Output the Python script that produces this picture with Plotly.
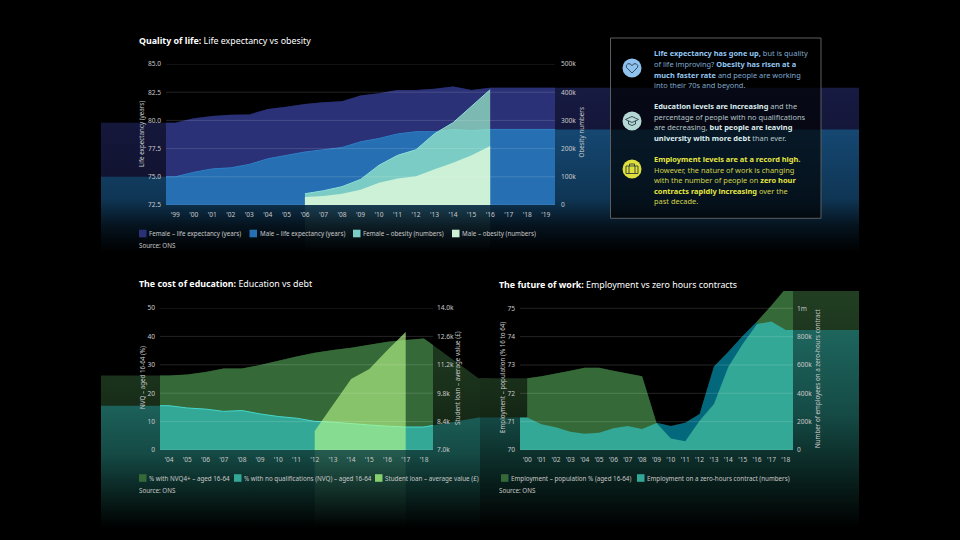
import plotly.graph_objects as go

# chart 1: quality of life
life_years = ["'99", "'00", "'01", "'02", "'03", "'04", "'05", "'06", "'07", "'08", "'09",
              "'10", "'11", "'12", "'13", "'14", "'15", "'16", "'17", "'18", "'19"]
female_life = [79.8, 80.2, 80.4, 80.5, 80.53, 81.0, 81.2, 81.45, 81.6, 81.7, 82.2, 82.4, 82.7, 82.7, 82.8, 83.0, 82.7, 82.9]
male_life = [75.0, 75.4, 75.7, 75.8, 76.1, 76.6, 76.9, 77.2, 77.4, 77.6, 78.1, 78.4, 78.8, 79.0, 79.0, 79.2, 79.1, 79.2]
female_obesity = [40000, 50600, 65000, 90600, 141000, 176000, 196000, 253000, 292000, 350000, 409000]
male_obesity = [28000, 32000, 40000, 54000, 79000, 94000, 102000, 127000, 150000, 176000, 209000]

# chart 2: education vs debt, the last value of the first two sits past the axis
edu_years = ["'04", "'05", "'06", "'07", "'08", "'09", "'10", "'11", "'12", "'13", "'14", "'15", "'16", "'17", "'18"]
nvq4 = [26.2, 26.6, 27.5, 28.7, 28.7, 29.9, 31.4, 32.9, 34.2, 35.2, 36.0, 37.1, 38.1, 38.7, 39.3]
no_quals = [15.6, 14.8, 14.4, 13.6, 13.9, 12.7, 11.8, 11.2, 10.1, 9.8, 9.2, 8.8, 8.4, 8.1, 8.1]
nvq4_tail = 25.3
no_quals_tail = 11.4
student_loan = [7937, 9218, 10500, 10993, 11930, 12817]

# chart 3: employment vs zero hours
work_years = ["'00", "'01", "'02", "'03", "'04", "'05", "'06", "'07", "'08", "'09", "'10", "'11", "'12", "'13", "'14", "'15", "'16", "'17", "'18"]
employment = [72.53, 72.6, 72.7, 72.8, 72.9, 72.9, 72.8, 72.7, 72.6, 70.96, 70.85, 70.96, 71.27, 72.95, 73.47, 74.02, 74.53, 75.1, 75.7]
zero_hours = [230000, 181000, 160000, 129000, 115000, 122000, 153000, 169000, 148000, 190000, 82000, 61000, 207000, 325000, 588000, 748000, 889000, 906000, 847000]

W = 960
H = 540
FONT = "Noto Sans"
TICK_SIZE = 6.6
LEG_SIZE = 6.25
TITLE_SIZE = 8.85
PANEL_SIZE = 7.45
GREY = "#c8c8c8"


def fx(px):
    return px / W


def fy(py):
    return 1 - py / H


def val_range(v_top, p_top, v_bot, p_bot, dom_top, dom_bot):
    # value range that keeps the scale when the domain is taller than the ticks
    per_px = (v_bot - v_top) / (p_bot - p_top)
    return [v_bot + (dom_bot - p_bot) * per_px, v_top + (dom_top - p_top) * per_px]


layout = {}
shapes = []
annots = []
fig = go.Figure()
axis_no = 0


def add_chart(cfg):
    global axis_no
    n = axis_no
    axis_no += 4
    ids = [str(n + i) if n + i > 1 else "" for i in range(1, 5)]
    count = len(cfg["cats"])
    step = (cfg["x1"] - cfg["x0"]) / count
    off = dict(visible=False, fixedrange=True)
    band_x = [(cfg["band_x0"] - cfg["x0"]) / step - 0.5, (cfg["band_x1"] - cfg["x0"]) / step - 0.5]
    band_dom = [fy(cfg["band_y1"]), fy(cfg["band_y0"])]
    left = val_range(cfg["left_top"], cfg["y0"], cfg["left_bot"], cfg["y1"], cfg["band_y0"], cfg["band_y1"])
    right = val_range(cfg["right_top"], cfg["y0"], cfg["right_bot"], cfg["y1"], cfg["band_y0"], cfg["band_y1"])
    # wide faded layer, one pair of axes per scale
    layout["xaxis" + ids[0]] = dict(off, domain=[fx(cfg["band_x0"]), fx(cfg["band_x1"])], range=band_x, anchor="y" + ids[0])
    layout["yaxis" + ids[0]] = dict(off, domain=band_dom, range=left, anchor="x" + ids[0])
    layout["xaxis" + ids[1]] = dict(off, domain=[fx(cfg["band_x0"]), fx(cfg["band_x1"])], range=band_x, anchor="y" + ids[1])
    layout["yaxis" + ids[1]] = dict(off, domain=band_dom, range=right, anchor="x" + ids[1])
    # plot area with the ticks
    top = cfg.get("clip_top", cfg["y0"])
    main_left = val_range(cfg["left_top"], cfg["y0"], cfg["left_bot"], cfg["y1"], top, cfg["y1"])
    main_right = val_range(cfg["right_top"], cfg["y0"], cfg["right_bot"], cfg["y1"], top, cfg["y1"])
    tick = dict(size=TICK_SIZE, color=GREY, family=FONT)
    layout["xaxis" + ids[2]] = dict(domain=[fx(cfg["x0"]), fx(cfg["x1"])], range=[-0.5, count - 0.5], anchor="y" + ids[2],
                                    tickmode="array", tickvals=list(range(count)), ticktext=cfg["cats"], tickfont=tick,
                                    ticks="", showgrid=False, zeroline=False, showline=False, ticklabelstandoff=4)
    layout["yaxis" + ids[2]] = dict(domain=[fy(cfg["y1"]), fy(top)], range=main_left, anchor="x" + ids[2],
                                    tickmode="array", tickvals=cfg["left_vals"], ticktext=cfg["left_text"], tickfont=tick,
                                    ticks="", showgrid=False, zeroline=False, showline=False, ticklabelstandoff=4)
    layout["yaxis" + ids[3]] = dict(overlaying="y" + ids[2], side="right", range=main_right, anchor="x" + ids[2],
                                    tickmode="array", tickvals=cfg["right_vals"], ticktext=cfg["right_text"], tickfont=tick,
                                    ticks="", showgrid=False, zeroline=False, showline=False, ticklabelstandoff=cfg["right_gap"])
    for v in cfg["left_vals"]:
        shapes.append(dict(type="line", xref="x" + ids[2], yref="y" + ids[2], x0=-0.5, x1=count - 0.5, y0=v, y1=v,
                           line=dict(color="rgba(255,255,255,0.14)", width=1), layer="above"))
    return dict(band_left=("x" + ids[0], "y" + ids[0], left), band_right=("x" + ids[1], "y" + ids[1], right),
                main_left=("x" + ids[2], "y" + ids[2]), main_right=("x" + ids[2], "y" + ids[3]))


def fade(rgb, stop, alpha=None):
    # colour held to the axis line, then down to black
    r, g, b = rgb
    if alpha is None:
        scale = [[0, f"rgb({r},{g},{b})"], [stop, f"rgb({int(r*.72)},{int(g*.72)},{int(b*.72)})"],
                 [0.8, f"rgb({int(r*.26)},{int(g*.26)},{int(b*.26)})"], [1, "rgb(0,0,0)"]]
    else:
        scale = [[0, f"rgba({r},{g},{b},{alpha})"], [stop, f"rgba({r},{g},{b},{alpha*.6})"], [1, f"rgba({r},{g},{b},0)"]]
    return scale


def add_band(ax, xs, ys, rgb, top_val, stop, alpha=None):
    xa, ya, rng = ax
    fig.add_trace(go.Scatter(x=list(xs) + [xs[-1], xs[0]], y=list(ys) + [rng[0], rng[0]], xaxis=xa, yaxis=ya, mode="none",
                             fill="toself", hoverinfo="skip", showlegend=False,
                             fillgradient=dict(type="vertical", colorscale=fade(rgb, stop, alpha), start=top_val, stop=rng[0])))


def add_area(ax, xs, ys, fill, line=None):
    fig.add_trace(go.Scatter(x=xs, y=ys, xaxis=ax[0], yaxis=ax[1], mode="lines" if line else "none", fill="tozeroy",
                             fillcolor=fill, line=dict(color=line, width=1) if line else None,
                             hoverinfo="skip", showlegend=False))


def flat_ends(idx, ys):
    # values carry on flat past both ends of the axis
    return [-40] + list(idx) + [80], [ys[0]] + list(ys) + [ys[-1]]


def add_text(x, y, text, size=LEG_SIZE, color=GREY, **kw):
    anchor = kw.pop("xanchor", "left")
    annots.append(dict(x=fx(x), y=fy(y), xref="paper", yref="paper", text=text, showarrow=False, xanchor=anchor,
                       xshift=-2 if anchor == "left" else 0,
                       yanchor="middle", font=dict(family=FONT, size=size, color=color), **kw))


def add_legend(y, items):
    for x, color, label in items:
        shapes.append(dict(type="rect", xref="paper", yref="paper", x0=fx(x), x1=fx(x + 7.5), y0=fy(y - 3.8), y1=fy(y + 3.8),
                           fillcolor=color, line=dict(width=0), layer="above"))
        add_text(x + 10, y, label)


def add_vtitle(x, y, text):
    add_text(x, y, text, textangle=-90, xanchor="center")


# ---- chart 1
navy = "#2a3176"
blue = "#256fb2"
c1 = add_chart(dict(cats=life_years, x0=166, x1=555, y0=64, y1=205, band_x0=101, band_x1=859, band_y0=60, band_y1=252, right_gap=5,
                    left_top=85, left_bot=72.5, right_top=500000, right_bot=0,
                    left_vals=[72.5, 75, 77.5, 80, 82.5, 85], left_text=["72.5", "75.0", "77.5", "80.0", "82.5", "85.0"],
                    right_vals=[0, 100000, 200000, 300000, 400000, 500000], right_text=["0", "100k", "200k", "300k", "400k", "500k"]))
idx = list(range(len(female_life)))
ob_idx = list(range(7, 7 + len(female_obesity)))
xs, ys = flat_ends(idx, female_life)
add_band(c1["band_left"], xs, ys, (24, 27, 68), 84, 0.6)
xs, ys = flat_ends(idx, male_life)
add_band(c1["band_left"], xs, ys, (22, 74, 118), 80, 0.6)
add_band(c1["band_right"], ob_idx, female_obesity, (130, 190, 150), 300000, 0.6, 0.2)
xs, ys = flat_ends(idx, female_life)
add_area(c1["main_left"], xs, ys, navy)
xs, ys = flat_ends(idx, male_life)
add_area(c1["main_left"], xs, ys, blue, "#2f7fc6")
add_area(c1["main_right"], ob_idx, female_obesity, "rgba(160,244,204,0.7)", "#8fe0d8")
add_area(c1["main_right"], ob_idx, male_obesity, "rgba(204,241,214,1)")
add_text(139, 41.5, "<b>Quality of life:</b> Life expectancy vs obesity", TITLE_SIZE, "#ffffff")
add_legend(233.5, [(139, navy, "Female – life expectancy (years)"), (249.5, blue, "Male – life expectancy (years)"),
                   (353, "#7bccc4", "Female – obesity (numbers)"), (452, "#ccf1d6", "Male – obesity (numbers)")])
add_text(139, 246, "Source: ONS")
add_vtitle(142, 134, "Life expectancy (years)")
add_vtitle(581.5, 133, "Obesity numbers")

# ---- chart 2
green = "#356a38"
teal = "#33a896"
c2 = add_chart(dict(cats=edu_years, x0=160, x1=433, y0=308, y1=450, band_x0=101, band_x1=490, band_y0=300, band_y1=528, right_gap=3,
                    left_top=50, left_bot=0, right_top=14000, right_bot=7000,
                    left_vals=[0, 10, 20, 30, 40, 50], left_text=["0", "10", "20", "30", "40", "50"],
                    right_vals=[7000, 8400, 9800, 11200, 12600, 14000], right_text=["7.0k", "8.4k", "9.8k", "11.2k", "12.6k", "14.0k"]))
idx = list(range(len(nvq4))) + [17]
loan_idx = list(range(8, 8 + len(student_loan)))
xs, ys = flat_ends(idx, nvq4 + [nvq4_tail])
add_band(c2["band_left"], xs, ys, (33, 62, 34), 48, 0.45)
add_area(c2["main_left"], xs, ys, green)
xs2, ys2 = flat_ends(idx, no_quals + [no_quals_tail])
add_band(c2["band_left"], xs2, ys2, (30, 104, 96), 20, 0.45)
add_band(c2["band_right"], loan_idx, student_loan, (130, 190, 130), 9000, 0.45, 0.2)
add_area(c2["main_left"], xs2, ys2, teal, "#46d8cc")
add_area(c2["main_right"], loan_idx, student_loan, "rgba(190,255,140,0.6)")
add_text(139, 284, "<b>The cost of education:</b> Education vs debt", TITLE_SIZE, "#ffffff")
add_legend(478, [(139, green, "% with NVQ4+ – aged 16-64"), (234, teal, "% with no qualifications (NVQ) – aged 16-64"),
                 (375, "#85cf6e", "Student loan – average value (£)")])
add_text(139, 490.5, "Source: ONS")
add_vtitle(142, 378, "NVQ – aged 16-64 (%)")
add_vtitle(457, 378, "Student loan – average value (£)")

# ---- chart 3, the line leaves the top of the axes and is cut off at the band edge
dark_teal = "#03687c"
c3 = add_chart(dict(cats=work_years, x0=520, x1=793, y0=308.3, y1=450, clip_top=291, band_x0=480, band_x1=859, band_y0=291, band_y1=528, right_gap=3,
                    left_top=75, left_bot=70, right_top=1000000, right_bot=0,
                    left_vals=[70, 71, 72, 73, 74, 75], left_text=["70", "71", "72", "73", "74", "75"],
                    right_vals=[0, 200000, 400000, 600000, 800000, 1000000], right_text=["0", "200k", "400k", "600k", "800k", "1m"]))
idx = list(range(len(employment)))
xs, ys = flat_ends(idx, employment)
add_band(c3["band_left"], xs, ys, (33, 62, 34), 75.6, 0.45)
xs2, ys2 = flat_ends(idx, zero_hours)
add_band(c3["band_right"], xs2, ys2, (30, 104, 96), 900000, 0.45)
# 2009 to 2016 the gap between the two series is dark teal, not green
add_area(c3["main_left"], idx[:10], employment[:10], green)
add_area(c3["main_left"], idx[9:17], employment[9:17], dark_teal)
add_area(c3["main_left"], idx[16:] + [80], employment[16:] + [employment[-1]], green)
add_area(c3["main_right"], xs2, ys2, teal)
add_text(499, 284.5, "<b>The future of work:</b> Employment vs zero hours contracts", TITLE_SIZE, "#ffffff")
add_legend(478, [(501, green, "Employment – population % (aged 16-64)"), (637, teal, "Employment on a zero-hours contract (numbers)")])
add_text(499, 490.5, "Source: ONS")
add_vtitle(502, 378, "Employment – population (% 16 to 64)")
add_vtitle(817, 378, "Number of employees on a zero-hours contract")

# ---- text panel
shapes.append(dict(type="rect", xref="paper", yref="paper", x0=fx(610.5), x1=fx(821), y0=fy(38), y1=fy(218.3),
                   fillcolor="rgba(0,0,0,0.65)", line=dict(color="#5a5e62", width=1), layer="above"))


def panel_line(y, text, base, strong):
    add_text(654, y, text.replace("<b>", f"<b style='color:{strong}'>"), PANEL_SIZE, base)


para_blue = ["<b>Life expectancy has gone up,</b> but is quality",
             "of life improving? <b>Obesity has risen at a</b>",
             "<b>much faster rate</b> and people are working",
             "into their 70s and beyond."]
para_white = ["<b>Education levels are increasing</b> and the",
              "percentage of people with no qualifications",
              "are decreasing, <b>but people are leaving</b>",
              "<b>university with more debt</b> than ever."]
para_yellow = ["<b>Employment levels are at a record high.</b>",
               "However, the nature of work is changing",
               "with the number of people on <b>zero hour</b>",
               "<b>contracts rapidly increasing</b> over the",
               "past decade."]
for i, line in enumerate(para_blue):
    panel_line(53.3 + i * 10.6, line, "#7fa9cf", "#93c6f2")
for i, line in enumerate(para_white):
    panel_line(106 + i * 10.6, line, "#b3c6c6", "#dcecec")
for i, line in enumerate(para_yellow):
    panel_line(159 + i * 10.6, line, "#d2d24a", "#e6e640")


def circle(cx, cy, r, color):
    shapes.append(dict(type="circle", xref="paper", yref="paper", x0=fx(cx - r), x1=fx(cx + r), y0=fy(cy - r), y1=fy(cy + r),
                       fillcolor=color, line=dict(width=0), layer="above"))


def icon(cx, cy, points, close=True):
    # points are pixel offsets from the icon centre
    parts = []
    for i, (dx, dy) in enumerate(points):
        parts.append(("M" if i == 0 else "L") + f"{fx(cx + dx):.5f},{fy(cy + dy):.5f}")
    shapes.append(dict(type="path", xref="paper", yref="paper", path=" ".join(parts) + (" Z" if close else ""),
                       line=dict(color="#1c2c38", width=0.8), layer="above"))


circle(632, 68, 9.5, "#8fc2ef")
icon(632, 68, [(0, 5), (-5.5, -0.5), (-5.8, -2.6), (-4.2, -4.2), (-2, -4.2), (0, -2.4), (2, -4.2), (4.2, -4.2), (5.8, -2.6), (5.5, -0.5)])
circle(632, 121, 9.5, "#b5d8d4")
icon(632, 121, [(-6.5, -1.5), (0, -4.5), (6.5, -1.5), (0, 1.5)])
icon(632, 121, [(-3.5, 0), (-3.5, 3), (0, 4.5), (3.5, 3), (3.5, 0)], close=False)
circle(632, 169, 9.5, "#dfe03e")
icon(632, 169, [(-6, -3), (6, -3), (6, 4.5), (-6, 4.5)])
icon(632, 169, [(-2.5, -3), (-2.5, -5), (2.5, -5), (2.5, -3)], close=False)
icon(632, 169, [(-3, -3), (-3, 4.5)], close=False)
icon(632, 169, [(3, -3), (3, 4.5)], close=False)

layout.update(width=W, height=H, margin=dict(l=0, r=0, t=0, b=0, autoexpand=False), paper_bgcolor="#000000", plot_bgcolor="rgba(0,0,0,0)",
              showlegend=False, shapes=shapes, annotations=annots, font=dict(family=FONT))
fig.update_layout(**layout)
fig.write_html("out.html", config=dict(displayModeBar=False), post_script="document.body.style.margin='0';")
